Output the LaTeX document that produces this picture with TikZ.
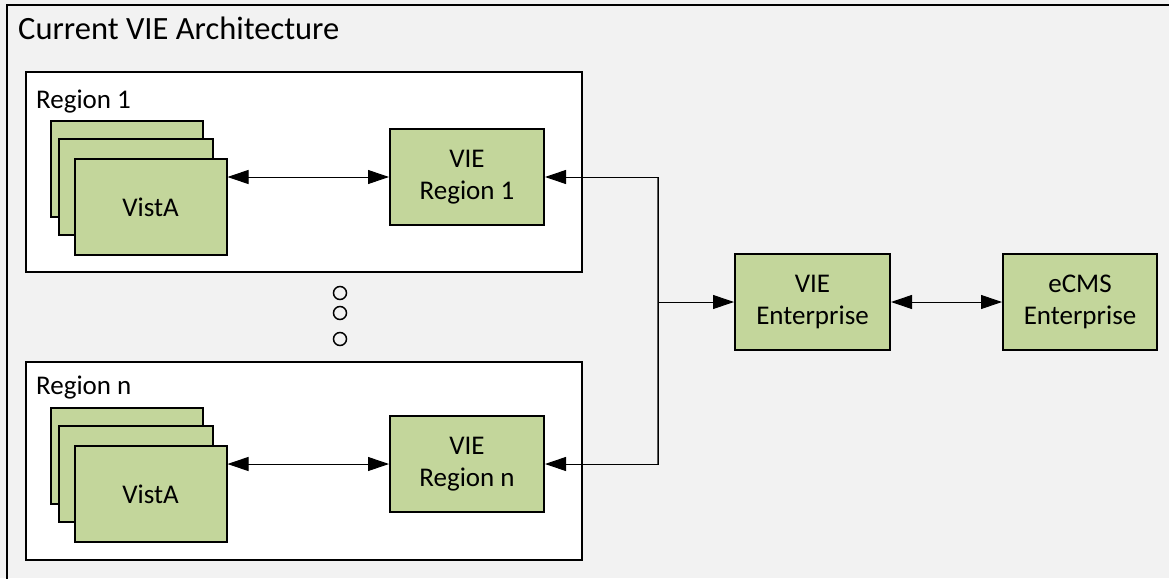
\documentclass[tikz,border=0pt]{standalone}
\usepackage{fontspec}
\setmainfont{Carlito}
\usetikzlibrary{arrows.meta}
\definecolor{bgc}{HTML}{F2F2F2}
\definecolor{grn}{HTML}{C3D69B}
\definecolor{bus}{HTML}{595959}
\tikzset{
  px/.style={x=1pt,y=-1pt},
  gbox/.style={draw=black, line width=2pt, fill=grn, inner sep=0pt, align=center,
    font=\fontsize{27}{32}\selectfont},
  regbox/.style={draw=black, line width=2pt, fill=white},
  lbl/.style={anchor=base west, inner sep=0pt, font=\fontsize{27}{32}\selectfont},
  conn/.style={line width=1pt, draw=black},
  busline/.style={line width=1.3pt, draw=bus},
  tip/.style={-{Triangle[length=21pt,width=14pt]}},
  tips/.style={{Triangle[length=21pt,width=14pt]}-{Triangle[length=21pt,width=14pt]}},
  dot/.style={circle, draw=black, line width=1.5pt, fill=bgc, minimum size=13pt, inner sep=0pt}
}
\begin{document}
\begin{tikzpicture}[px]
\useasboundingbox (0,0) rectangle (1169,578);
\fill[bgc] (0,0) rectangle (1169,578);
\draw[line width=2pt] (7,600) -- (7,5) -- (1180,5);
\node[anchor=base west, inner sep=0pt, font=\fontsize{32.5}{38}\selectfont] (title) at (18,40) {Current VIE Architecture};
% Region 1
\node[regbox, minimum width=556pt, minimum height=200pt, inner sep=0pt] (reg1) at (304,172) {};
\node[lbl] (reg1lbl) at (36,108) {Region 1};
\node[gbox, minimum width=152pt, minimum height=96pt] (v1a) at (127,169) {};
\node[gbox, minimum width=154pt, minimum height=96pt] (v1b) at (135.5,187) {};
\node[gbox, minimum width=152pt, minimum height=96pt] (v1c) at (150.5,207) {VistA};
\node[gbox, minimum width=154pt, minimum height=96pt] (vie1) at (467,177) {VIE\\Region 1};
% Region n
\node[regbox, minimum width=556pt, minimum height=198pt, inner sep=0pt] (regn) at (304,461) {};
\node[lbl] (regnlbl) at (36,394) {Region n};
\node[gbox, minimum width=152pt, minimum height=96pt] (vna) at (127,456) {};
\node[gbox, minimum width=154pt, minimum height=96pt] (vnb) at (135.5,474) {};
\node[gbox, minimum width=152pt, minimum height=96pt] (vnc) at (150.5,494) {VistA};
\node[gbox, minimum width=154pt, minimum height=96pt] (vien) at (467,464) {VIE\\Region n};
% dots
\node[dot] (d1) at (340,293) {};
\node[dot] (d2) at (340,313) {};
\node[dot] (d3) at (340,339) {};
% enterprise
\node[gbox, minimum width=155pt, minimum height=96pt] (vient) at (812.5,302) {VIE\\Enterprise};
\node[gbox, minimum width=154pt, minimum height=96pt] (ecms) at (1080,302) {eCMS\\Enterprise};
% connectors
\draw[conn, tips] (v1c.east |- vie1.east) -- (vie1.west);
\draw[conn, tips] (vnc.east |- vien.east) -- (vien.west);
\coordinate (bus) at (658,302);
\draw[busline] (658,177) -- (658,464);
\draw[conn, tip] (bus) |- (vie1.east);
\draw[conn, tip] (bus) |- (vien.east);
\draw[conn, tip] (bus) -- (vient.west);
\draw[conn, tips] (vient.east) -- (ecms.west);
\end{tikzpicture}
\end{document}
